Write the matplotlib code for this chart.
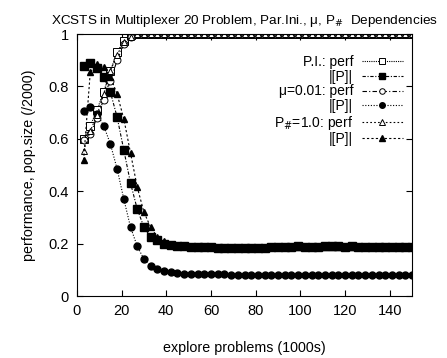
import matplotlib
matplotlib.use("Agg")
import matplotlib.pyplot as plt
import numpy as np

plt.rcParams['font.family'] = ['Liberation Sans', 'DejaVu Sans']

# explore problems (1000s), one point every 3000 problems
x = np.arange(3, 151, 3)

# P.I.
pi_perf = [0.60, 0.65, 0.71, 0.78, 0.86, 0.93, 0.975, 0.995] + [1.0] * 42
pi_pop = [0.878, 0.888, 0.870, 0.836, 0.778, 0.683, 0.557, 0.431, 0.332, 0.263,
          0.225, 0.214, 0.198, 0.195, 0.192, 0.190, 0.188, 0.187, 0.186, 0.186,
          0.185, 0.185, 0.185, 0.185, 0.185, 0.185, 0.185, 0.185, 0.186, 0.186,
          0.188, 0.189, 0.190, 0.188, 0.189, 0.188, 0.190, 0.190, 0.190, 0.189,
          0.190, 0.188, 0.188, 0.187, 0.187, 0.188, 0.188, 0.188, 0.189, 0.189]
# mu = 0.01
mu_perf = [0.595, 0.62, 0.68, 0.75, 0.82, 0.90, 0.96, 0.99] + [1.0] * 42
mu_pop = [0.707, 0.723, 0.695, 0.650, 0.580, 0.485, 0.370, 0.263, 0.190, 0.141,
          0.114, 0.103, 0.095, 0.090, 0.088, 0.086, 0.085, 0.084, 0.084, 0.083,
          0.083, 0.083, 0.082, 0.082, 0.082, 0.082, 0.082, 0.081, 0.081, 0.081,
          0.081, 0.081, 0.081, 0.081, 0.080, 0.080, 0.080, 0.080, 0.080, 0.080,
          0.080, 0.080, 0.080, 0.080, 0.080, 0.080, 0.080, 0.080, 0.080, 0.080]
# P# = 1.0
pc_perf = [0.555, 0.63, 0.69, 0.77, 0.86, 0.92, 0.97, 0.99] + [1.0] * 42
pc_pop = [0.519, 0.855, 0.885, 0.874, 0.836, 0.771, 0.676, 0.546, 0.416, 0.320,
          0.263, 0.225, 0.210, 0.200, 0.195, 0.192, 0.190, 0.189, 0.188, 0.188,
          0.187, 0.187, 0.187, 0.186, 0.186, 0.186, 0.186, 0.186, 0.186, 0.187,
          0.187, 0.188, 0.188, 0.188, 0.189, 0.188, 0.189, 0.189, 0.189, 0.189,
          0.189, 0.188, 0.188, 0.188, 0.188, 0.188, 0.188, 0.188, 0.188, 0.188]

fig = plt.figure(figsize=(4.47, 3.58), dpi=100)
ax = fig.add_axes([0.172, 0.173, 0.750, 0.732])

lw = 0.8
ax.plot(x, pi_perf, color='k', lw=lw, ls=(0, (1, 1)), marker='s', ms=5.5,
        mfc='white', mec='k', mew=0.7, label='P.I.: perf')
ax.plot(x, pi_pop, color='k', lw=lw, ls=(0, (3, 1.5, 1, 1.5)), marker='s', ms=5.5,
        mfc='k', mec='k', label='|[P]|')
ax.plot(x, mu_perf, color='k', lw=lw, ls=(0, (4, 2, 1, 2)), marker='o', ms=5,
        mfc='white', mec='k', mew=0.7, label='\u03bc=0.01: perf')
ax.plot(x, mu_pop, color='k', lw=lw, ls=(0, (1, 1.5)), marker='o', ms=5,
        mfc='k', mec='k', label='|[P]|')
ax.plot(x, pc_perf, color='k', lw=lw, ls=(0, (1.5, 2)), marker='^', ms=5,
        mfc='white', mec='k', mew=0.7, label='P$_\\#$=1.0: perf')
ax.plot(x, pc_pop, color='k', lw=lw, ls=(0, (2, 2)), marker='^', ms=5,
        mfc='k', mec='k', label='|[P]|')

ax.set_xlim(0, 150)
ax.set_ylim(0, 1)
ax.set_xticks(range(0, 141, 20))
ax.set_yticks([0, 0.2, 0.4, 0.6, 0.8, 1])
ax.set_yticklabels(['0', '0.2', '0.4', '0.6', '0.8', '1'])
ax.tick_params(direction='in', top=True, right=True, labelsize=10.5, length=4, pad=6)

ax.set_xlabel('explore problems (1000s)', fontsize=10.3, labelpad=16)
ax.set_ylabel('performance, pop.size (/2000)', fontsize=10.3, labelpad=9)
ax.set_title('XCSTS in Multiplexer 20 Problem, Par.Ini., \u03bc, P$_\\#$  Dependencies',
             fontsize=9.7, pad=7)

ax.legend(loc='upper right', bbox_to_anchor=(0.988, 0.94), frameon=False,
          markerfirst=False, fontsize=10, handlelength=2.9, labelspacing=0.04,
          handletextpad=0.65, borderaxespad=0, markerscale=0.8)

fig.savefig('out.png', dpi=100)
